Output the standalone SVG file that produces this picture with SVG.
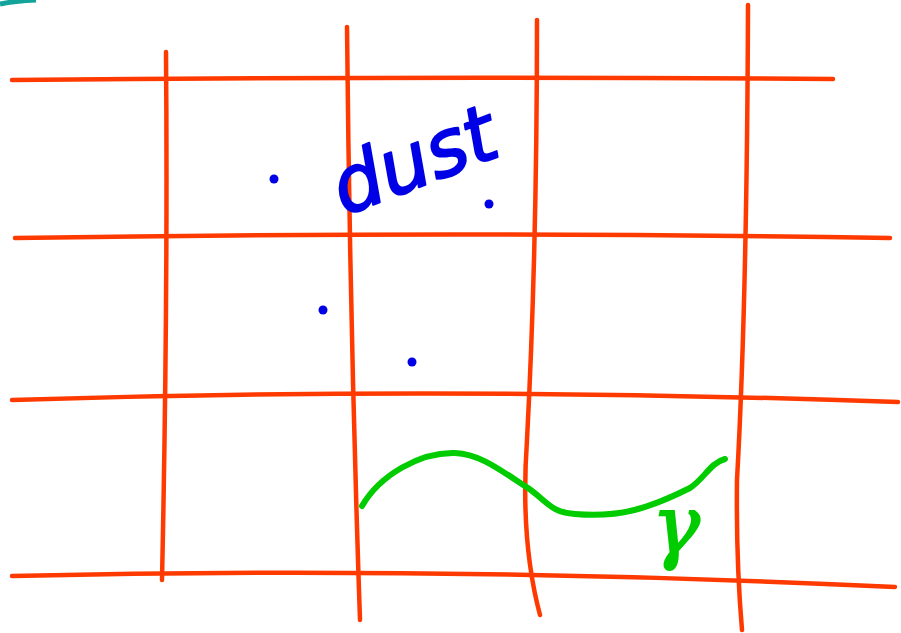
<svg xmlns="http://www.w3.org/2000/svg" width="901" height="633" viewBox="0 0 901 633">
<style>
.grid{fill:none;stroke:#ff3a00;stroke-width:4.5;stroke-linecap:round}
.dot{fill:#0000e6}
.green{fill:none;stroke:#00cc00;stroke-width:6;stroke-linecap:round;stroke-linejoin:round}
.dust{font-family:"DejaVu Sans",sans-serif;font-style:oblique;fill:#0000e6;stroke:#0000e6;stroke-width:2;stroke-linejoin:round}
.gamma{font-family:"DejaVu Serif",serif;font-style:italic;fill:#00cc00;stroke:#00cc00;stroke-width:2}
</style>
<rect width="901" height="633" fill="#ffffff"/>
<path d="M0,4 Q15,1 36,0" fill="none" stroke="#12a39a" stroke-width="5"/>
<g id="grid">
<path class="grid" d="M12,80 Q420,76 833,79"/>
<path class="grid" d="M15,238 Q450,231 890,238"/>
<path class="grid" d="M12,400 Q450,386 898,402"/>
<path class="grid" d="M12,576 Q450,566 895,587"/>
<path class="grid" d="M166,52 Q168,300 162,580"/>
<path class="grid" d="M347,27 Q350,330 360,620"/>
<path class="grid" d="M537,20 Q537,250 527,440 Q520,540 540,615"/>
<path class="grid" d="M748,5 Q747,300 737,480 Q736,560 742,630"/>
</g>
<g id="dots">
<circle class="dot" cx="274" cy="179" r="4.5"/>
<circle class="dot" cx="489" cy="204" r="4.5"/>
<circle class="dot" cx="323" cy="310" r="4.5"/>
<circle class="dot" cx="412" cy="362" r="4.5"/>
</g>
<text class="dust" x="344" y="216" font-size="78" transform="rotate(-21 344 216)">dust</text>
<path class="green" d="M362,506 C380,475 420,452 455,453 C480,454 500,470 528,488 C548,502 550,512 575,514 C620,518 650,508 690,488 C705,478 710,463 725,459"/>
<text class="gamma" x="652" y="553" font-size="80">γ</text>
</svg>
